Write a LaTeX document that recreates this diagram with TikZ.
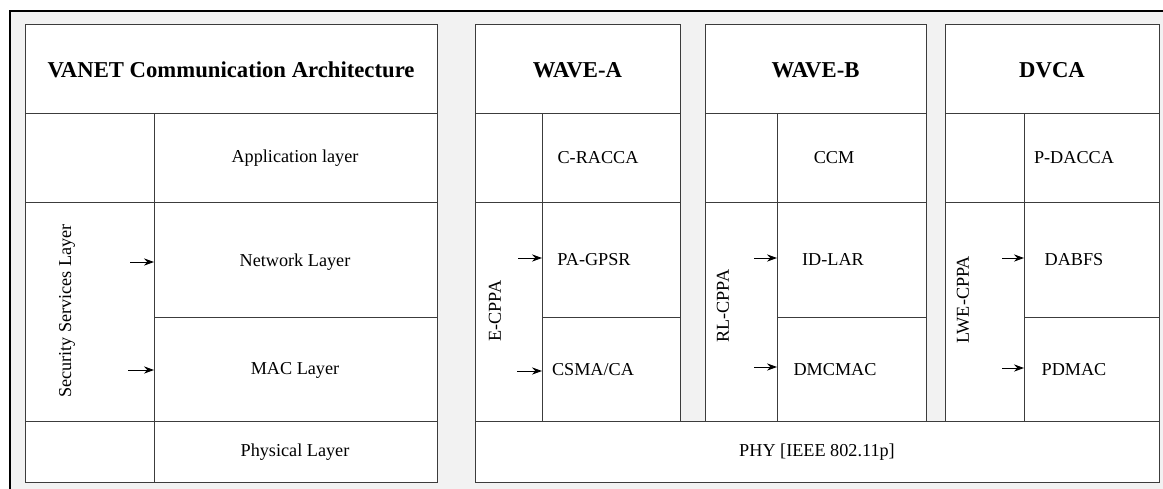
\documentclass[tikz,border=0pt]{standalone}
\usepackage{fontspec}
\setmainfont{Liberation Serif}
\usetikzlibrary{arrows.meta}
\definecolor{panelgray}{RGB}{242,242,242}
\definecolor{rulegray}{RGB}{60,60,60}
\tikzset{
  cellbox/.style={draw=rulegray, line width=0.5pt, fill=white, inner sep=0pt, anchor=north west},
  lbl/.style={font=\fontsize{9.1}{11}\selectfont, inner sep=0pt},
  headlbl/.style={font=\bfseries\fontsize{11.35}{13}\selectfont, inner sep=0pt},
  arr/.style={-{Stealth[length=5pt,width=3.6pt]}, line width=0.5pt}
}
% cell: name, x1, y1, x2, y2 (pixel grid, y downwards)
\newcommand{\cellnode}[5]{\node[cellbox, minimum width={(#4-#2)*0.5pt}, minimum height={(#5-#3)*0.5pt}] (#1) at (#2,#3) {};}

\begin{document}
\begin{tikzpicture}[x=0.5pt,y=-0.5pt]
    \useasboundingbox (0,0) rectangle (1163,488);
    \clip (0,0) rectangle (1163,488);
    \fill[white] (0,0) rectangle (1163,488);
    \draw[line width=0.8pt, fill=panelgray] (10,11) rectangle (1180,500);

    % VANET stack
    \cellnode{vanetHead}{25}{24}{437}{113}
    \cellnode{secTop}{25}{113}{154}{202}
    \cellnode{appCell}{154}{113}{437}{202}
    \cellnode{secCell}{25}{202}{154}{421}
    \cellnode{netCell}{154}{202}{437}{317}
    \cellnode{macCell}{154}{317}{437}{421}
    \cellnode{secBot}{25}{421}{154}{482}
    \cellnode{phyCell}{154}{421}{437}{482}

    \node[headlbl] (vanetT) at (231,70) {VANET Communication Architecture};
    \node[lbl] (appT) at (295,158) {Application layer};
    \node[lbl, rotate=90] (secT) at (67,311) {Security Services Layer};
    \node[lbl] (netT) at (295,262) {Network Layer};
    \node[lbl] (macT) at (295,370) {MAC Layer};
    \node[lbl] (phyT) at (295,452) {Physical Layer};

    \coordinate (netArr) at (130,262);
    \coordinate (macArr) at (128,370);
    \draw[arr] (netArr) -- (netArr -| netCell.west);
    \draw[arr] (macArr) -- (macArr -| macCell.west);

    % WAVE-A
    \cellnode{waHead}{475}{24}{680}{113}
    \cellnode{waTop}{475}{113}{542}{202}
    \cellnode{waApp}{542}{113}{680}{202}
    \cellnode{waSec}{475}{202}{542}{421}
    \cellnode{waNet}{542}{202}{680}{317}
    \cellnode{waMac}{542}{317}{680}{421}

    \node[headlbl] (waT) at (577.5,70) {WAVE-A};
    \node[lbl] (waAppT) at (598,158) {C-RACCA};
    \node[lbl, rotate=90] (waSecT) at (495,311) {E-CPPA};
    \node[lbl] (waNetT) at (594,260) {PA-GPSR};
    \node[lbl] (waMacT) at (593,370) {CSMA/CA};

    \coordinate (waNetArr) at (518,258);
    \coordinate (waMacArr) at (517,371);
    \draw[arr] (waNetArr) -- (waNetArr -| waNet.west);
    \draw[arr] (waMacArr) -- (waMacArr -| waMac.west);

    % WAVE-B
    \cellnode{wbHead}{705}{24}{926}{113}
    \cellnode{wbTop}{705}{113}{777}{202}
    \cellnode{wbApp}{777}{113}{926}{202}
    \cellnode{wbSec}{705}{202}{777}{421}
    \cellnode{wbNet}{777}{202}{926}{317}
    \cellnode{wbMac}{777}{317}{926}{421}

    \node[headlbl] (wbT) at (815.5,70) {WAVE-B};
    \node[lbl] (wbAppT) at (834,158) {CCM};
    \node[lbl, rotate=90] (wbSecT) at (723,306) {RL-CPPA};
    \node[lbl] (wbNetT) at (833,260) {ID-LAR};
    \node[lbl] (wbMacT) at (835,370) {DMCMAC};

    \coordinate (wbNetArr) at (754,258);
    \coordinate (wbMacArr) at (754,367);
    \draw[arr] (wbNetArr) -- (wbNetArr -| wbNet.west);
    \draw[arr] (wbMacArr) -- (wbMacArr -| wbMac.west);

    % DVCA
    \cellnode{dvHead}{945}{24}{1159}{113}
    \cellnode{dvTop}{945}{113}{1024}{202}
    \cellnode{dvApp}{1024}{113}{1159}{202}
    \cellnode{dvSec}{945}{202}{1024}{421}
    \cellnode{dvNet}{1024}{202}{1159}{317}
    \cellnode{dvMac}{1024}{317}{1159}{421}

    \node[headlbl] (dvT) at (1052,70) {DVCA};
    \node[lbl] (dvAppT) at (1074,158) {P-DACCA};
    \node[lbl, rotate=90] (dvSecT) at (963,300) {LWE-CPPA};
    \node[lbl] (dvNetT) at (1074,260) {DABFS};
    \node[lbl] (dvMacT) at (1074,370) {PDMAC};

    \coordinate (dvNetArr) at (1002,258);
    \coordinate (dvMacArr) at (1002,368);
    \draw[arr] (dvNetArr) -- (dvNetArr -| dvNet.west);
    \draw[arr] (dvMacArr) -- (dvMacArr -| dvMac.west);

    % shared physical layer
    \cellnode{phyBar}{475}{421}{1159}{482}
    \node[lbl] (phyBarT) at (817,452) {PHY [IEEE 802.11p]};
\end{tikzpicture}
\end{document}
